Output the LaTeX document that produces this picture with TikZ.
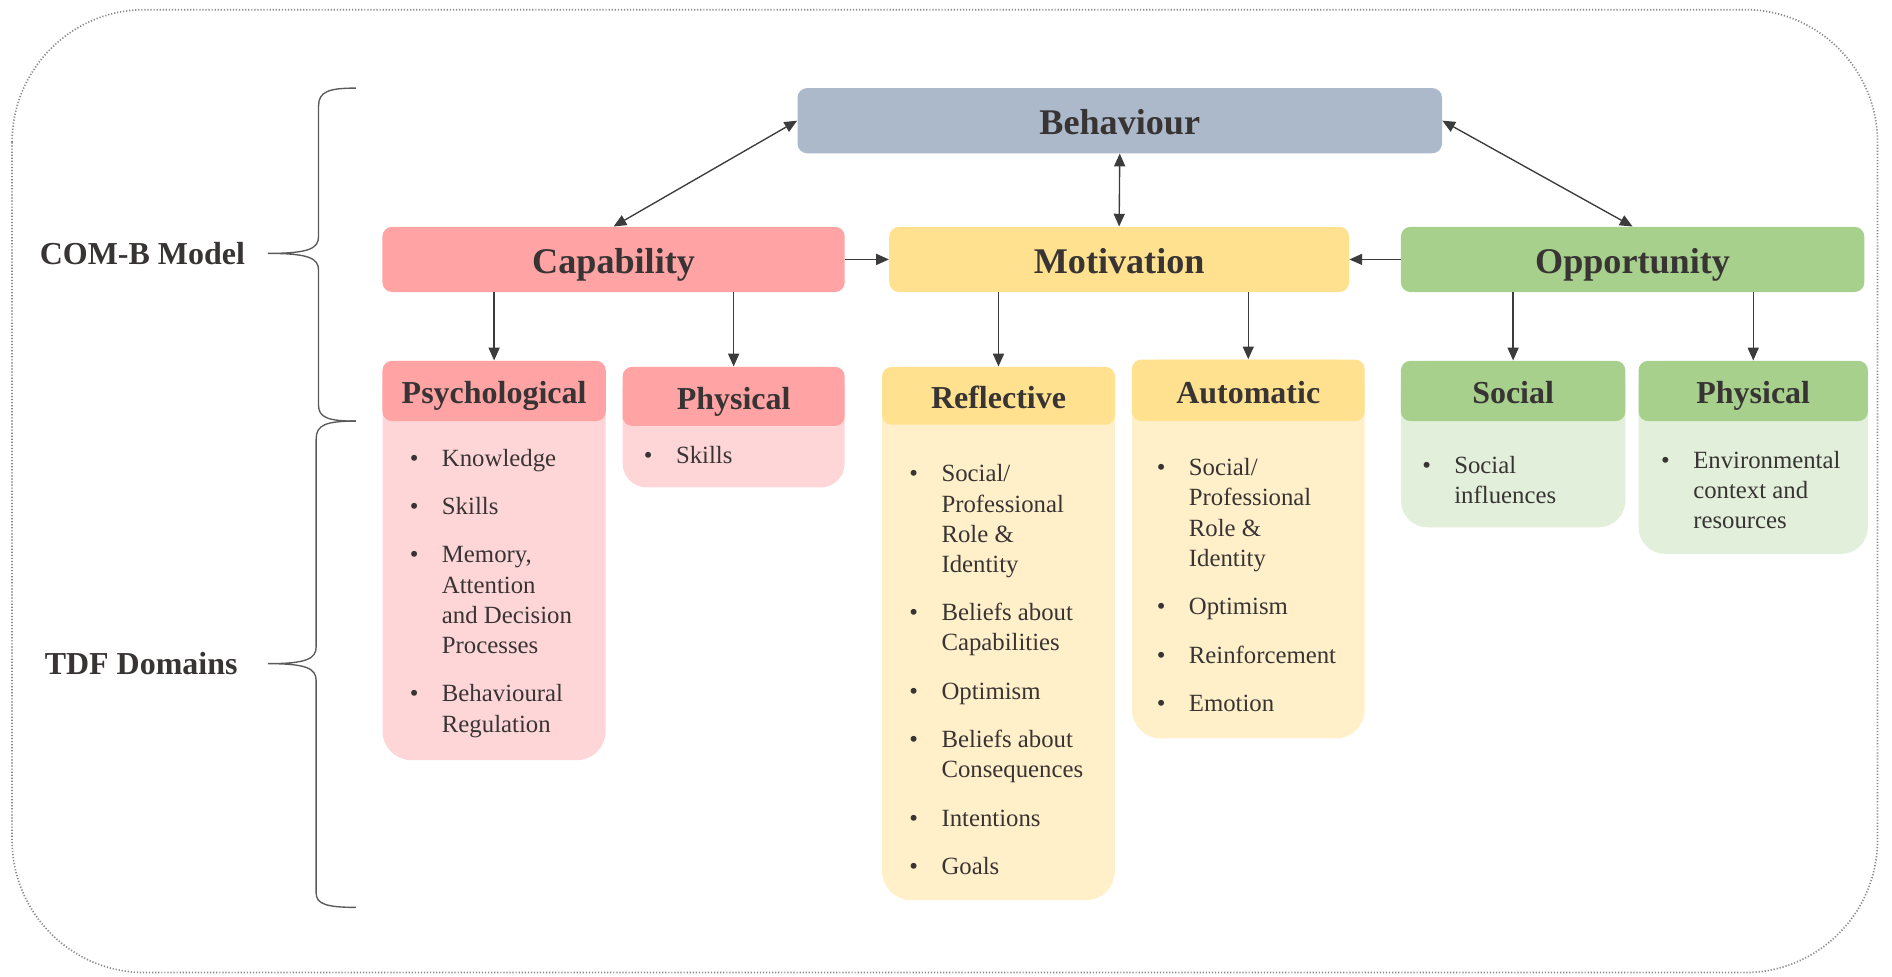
\documentclass[tikz,border=0pt]{standalone}
\usepackage{fontspec}
\setmainfont{Liberation Serif}
\usetikzlibrary{arrows.meta}

\definecolor{behblue}{HTML}{ACB9CA}
\definecolor{capdark}{HTML}{FFA3A4}
\definecolor{caplight}{HTML}{FFD6D7}
\definecolor{motdark}{HTML}{FFE18F}
\definecolor{motlight}{HTML}{FFF0CA}
\definecolor{oppdark}{HTML}{A8D08D}
\definecolor{opplight}{HTML}{E2EFDA}
\definecolor{txt}{HTML}{383434}
\definecolor{linec}{HTML}{3C3C3C}
\definecolor{brcol}{HTML}{5A5A5A}
\definecolor{dotc}{HTML}{8A8A8A}

\newcommand{\bul}{\strut\llap{\textbullet\hspace{0.485cm}}}
\newcommand{\nx}{\\[10.7pt]}

\begin{document}
\begin{tikzpicture}[x=0.025cm, y=-0.025cm,
        box/.style = {rounded corners=0.2cm, inner sep=0pt, text=txt},
        mainbox/.style = {box, minimum height=1.35cm, text height=16pt, text depth=0pt, font=\bfseries\fontsize{21.3pt}{25pt}\selectfont},
        subbox/.style = {box, text height=15pt, text depth=0pt, font=\bfseries\fontsize{18.85pt}{22pt}\selectfont},
        items/.style = {anchor=north west, inner sep=0pt, align=left, text=txt, font=\fontsize{14.6pt}{17.8pt}\selectfont},
        side/.style = {text=txt, font=\bfseries\fontsize{18.85pt}{22pt}\selectfont},
        arr/.style = {draw=linec, line width=0.8pt, -{Triangle[length=7.5pt,width=6.5pt]}},
        twoway/.style = {arr, {Triangle[length=7.5pt,width=6.5pt]}-{Triangle[length=7.5pt,width=6.5pt]}},
        brc/.style = {draw=brcol, line width=0.8pt},
        outerframe/.style = {draw=dotc, line width=1pt, dash pattern=on 0.7pt off 1.1pt, rounded corners=2.75cm},]
        \useasboundingbox (0,0) rectangle (1568,809);
        \draw[outerframe] (10,8) rectangle (1556,806);

        \node[side] (comb) at (118,210) {COM-B Model};
        \node[side] (tdf) at (117,550) {TDF Domains};
        \draw[brc] (295,73) .. controls (272,73) and (264,76) .. (264,88) -- (264,196) .. controls (264,206) and (256,210) .. (222,210) .. controls (256,210) and (264,214) .. (264,224) -- (264,336) .. controls (264,346) and (272,349) .. (295,349);
        \draw[brc] (295,349) .. controls (270,349) and (262,352) .. (262,364) -- (262,536) .. controls (262,546) and (254,550) .. (222,550) .. controls (254,550) and (262,554) .. (262,564) -- (262,740) .. controls (262,749) and (270,752) .. (295,752);

        \node[mainbox, fill=behblue, minimum width=13.35cm] (beh) at (928,100) {Behaviour};
        \node[mainbox, fill=capdark, minimum width=9.575cm] (cap) at (508.5,215) {Capability};
        \node[mainbox, fill=motdark, minimum width=9.525cm] (mot) at (927.5,215) {Motivation};
        \node[mainbox, fill=oppdark, minimum width=9.6cm] (opp) at (1353,215) {Opportunity};

        \fill[caplight, rounded corners=0.6cm] (317,299) rectangle (502,630);
        \fill[caplight, rounded corners=0.5cm] (516,304) rectangle (700,404);
        \fill[motlight, rounded corners=0.6cm] (731,304) rectangle (924,746);
        \fill[motlight, rounded corners=0.6cm] (938,298) rectangle (1131,612);
        \fill[opplight, rounded corners=0.55cm] (1161,299) rectangle (1347,437);
        \fill[opplight, rounded corners=0.55cm] (1358,299) rectangle (1548,459);

        \node[subbox, fill=capdark, minimum width=4.625cm, minimum height=1.25cm] (psy) at (409.5,324) {Psychological};
        \node[subbox, fill=capdark, minimum width=4.6cm, minimum height=1.225cm] (phy) at (608,328.5) {Physical};
        \node[subbox, fill=motdark, minimum width=4.825cm, minimum height=1.2cm] (ref) at (827.5,328) {Reflective};
        \node[subbox, fill=motdark, minimum width=4.825cm, minimum height=1.275cm] (aut) at (1034.5,323.5) {Automatic};
        \node[subbox, fill=oppdark, minimum width=4.65cm, minimum height=1.25cm] (soc) at (1254,324) {Social};
        \node[subbox, fill=oppdark, minimum width=4.75cm, minimum height=1.25cm] (phe) at (1453,324) {Physical};

        \node[items] (psy-t) at (366,368.5) {\bul Knowledge\nx \bul Skills\nx \bul Memory,\\ Attention\\ and Decision\\ Processes\nx \bul Behavioural\\ Regulation};
        \node[items] (phy-t) at (560,366.5) {\bul Skills};
        \node[items] (ref-t) at (780,381.5) {\bul Social/\\ Professional\\ Role \&\\ Identity\nx \bul Beliefs about\\ Capabilities\nx \bul Optimism\nx \bul Beliefs about\\ Consequences\nx \bul Intentions\nx \bul Goals};
        \node[items] (aut-t) at (985,376.5) {\bul Social/\\ Professional\\ Role \&\\ Identity\nx \bul Optimism\nx \bul Reinforcement\nx \bul Emotion};
        \node[items] (soc-t) at (1205,374.5) {\bul Social\\ influences};
        \node[items] (phe-t) at (1403,370.5) {\bul Environmental\\ context and\\ resources};

        \draw[twoway] (cap.north) -- (beh.west);
        \draw[twoway] (mot.north) -- (beh.south);
        \draw[twoway] (opp.north) -- (beh.east);
        \draw[arr] (cap.east) -- (mot.west);
        \draw[arr] (opp.west) -- (mot.east);
        \draw[arr] (psy.north |- cap.south) -- (psy.north);
        \draw[arr] (phy.north |- cap.south) -- (phy.north);
        \draw[arr] (ref.north |- mot.south) -- (ref.north);
        \draw[arr] (aut.north |- mot.south) -- (aut.north);
        \draw[arr] (soc.north |- opp.south) -- (soc.north);
        \draw[arr] (phe.north |- opp.south) -- (phe.north);

\end{tikzpicture}
\end{document}
